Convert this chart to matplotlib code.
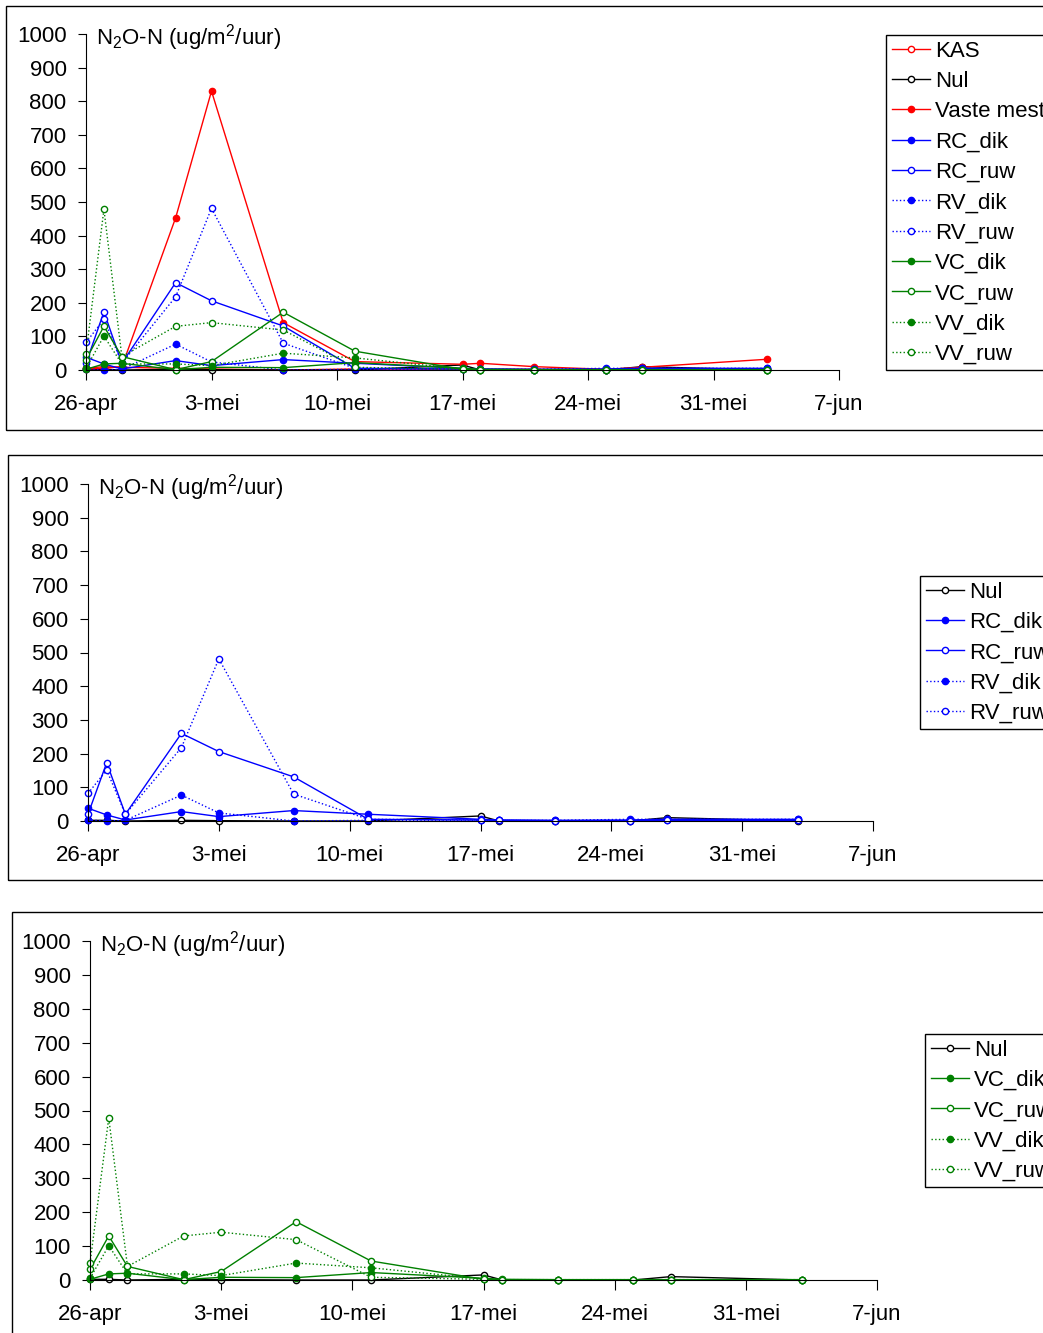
import pandas as pd
import matplotlib
matplotlib.use('Agg')
import matplotlib.pyplot as plt
from matplotlib.patches import Rectangle

plt.rcParams['font.family'] = ['Liberation Sans', 'DejaVu Sans']
plt.rcParams['mathtext.fontset'] = 'custom'
plt.rcParams['mathtext.rm'] = 'Liberation Sans'
plt.rcParams['mathtext.it'] = 'Liberation Sans:italic'

# meetdata N2O-N (ug/m2/uur)
dates = pd.to_datetime(['2006-04-26', '2006-04-27', '2006-04-28', '2006-05-01', '2006-05-03',
                        '2006-05-07', '2006-05-11', '2006-05-17', '2006-05-18', '2006-05-21',
                        '2006-05-25', '2006-05-27', '2006-06-03'])
kas = [5, 10, 8, 5, 3, 0, 3, 2, 2, 2, 1, 2, 2]
nul = [2, 2, 0, 2, 1, 0, 0, 15, 0, 0, 0, 10, 0]
vaste_mest = [3, 5, 10, 453, 830, 141, 25, 17, 20, 10, 2, 8, 32]
rc_dik = [38, 18, 3, 28, 13, 31, 20, 5, 3, 2, 3, 5, 5]
rc_ruw = [20, 173, 20, 260, 206, 131, 5, 3, 2, 1, 1, 2, 2]
rv_dik = [3, 0, 2, 77, 24, 0, 2, 2, 2, 2, 5, 5, 5]
rv_ruw = [82, 151, 20, 218, 481, 80, 5, 3, 2, 1, 1, 2, 2]
vc_dik = [2, 18, 20, 1, 8, 7, 22, 5, 2, 1, 1, 1, 1]
vc_ruw = [31, 130, 40, 1, 25, 172, 56, 2, 1, 1, 1, 1, 1]
vv_dik = [5, 101, 18, 18, 13, 50, 36, 3, 1, 0, 1, 1, 1]
vv_ruw = [49, 478, 40, 130, 141, 119, 8, 2, 1, 1, 1, 1, 1]

tick_dates = pd.to_datetime(['2006-04-26', '2006-05-03', '2006-05-10', '2006-05-17',
                             '2006-05-24', '2006-05-31', '2006-06-07'])
tick_labels = ['26-apr', '3-mei', '10-mei', '17-mei', '24-mei', '31-mei', '7-jun']

# naam: (waarden, kleur, lijnstijl, gevuld)
reeksen = {
    'KAS': (kas, '#FF0000', '-', False),
    'Nul': (nul, 'black', '-', False),
    'Vaste mest': (vaste_mest, '#FF0000', '-', True),
    'RC_dik': (rc_dik, '#0000FF', '-', True),
    'RC_ruw': (rc_ruw, '#0000FF', '-', False),
    'RV_dik': (rv_dik, '#0000FF', ':', True),
    'RV_ruw': (rv_ruw, '#0000FF', ':', False),
    'VC_dik': (vc_dik, '#008000', '-', True),
    'VC_ruw': (vc_ruw, '#008000', '-', False),
    'VV_dik': (vv_dik, '#008000', ':', True),
    'VV_ruw': (vv_ruw, '#008000', ':', False),
}

W, H = 1043, 1333
fig = plt.figure(figsize=(W / 100, H / 100), dpi=100)

# px-posities van de panelen: (links, rechts, boven, onder), kader, legenda
panelen = [
    ((86, 839, 34, 370), (6, 6, 430), (886, 35), list(reeksen.keys())),
    ((88, 873, 484, 821), (8, 455, 880), (920, 576), ['Nul', 'RC_dik', 'RC_ruw', 'RV_dik', 'RV_ruw']),
    ((90, 877, 941, 1280), (12, 912, 1345), (925, 1034), ['Nul', 'VC_dik', 'VC_ruw', 'VV_dik', 'VV_ruw']),
]

for (l, r, t, b), (kx, ky0, ky1), (lx, ly), namen in panelen:
    # kader rond de grafiek
    fig.patches.append(Rectangle((kx / W, 1 - ky1 / H), (W + 20 - kx) / W, (ky1 - ky0) / H,
                                 transform=fig.transFigure, fill=False, edgecolor='black',
                                 linewidth=1, zorder=0))
    ax = fig.add_axes([l / W, 1 - b / H, (r - l) / W, (b - t) / H])
    ax.patch.set_alpha(0)
    for naam in namen:
        vals, kleur, stijl, gevuld = reeksen[naam]
        ax.plot(dates, vals, color=kleur, linestyle=stijl, linewidth=1, marker='o',
                markersize=4.5, markeredgewidth=1, markeredgecolor=kleur,
                markerfacecolor=kleur if gevuld else 'white', label=naam, clip_on=False)
    ax.set_ylim(0, 1000)
    ax.set_yticks(range(0, 1001, 100))
    ax.set_xlim(tick_dates[0], tick_dates[-1])
    ax.set_xticks(tick_dates)
    ax.set_xticklabels(tick_labels)
    ax.spines['top'].set_visible(False)
    ax.spines['right'].set_visible(False)
    ax.tick_params(axis='y', direction='out', length=6, pad=8, labelsize=16)
    ax.tick_params(axis='x', direction='out', length=7, pad=10, labelsize=16)
    ax.text(0.013, 0.99, 'N$_{2}$O-N (ug/m$^{2}$/uur)', transform=ax.transAxes,
            fontsize=16, va='center', ha='left')
    leg = ax.legend(loc='upper left', bbox_to_anchor=(lx / W, 1 - ly / H),
                    bbox_transform=fig.transFigure, borderaxespad=0, fontsize=16,
                    frameon=True, fancybox=False, edgecolor='black', framealpha=1,
                    handlelength=1.75, handletextpad=0.2, labelspacing=0.42, borderpad=0.25)
    leg.get_frame().set_linewidth(1)

fig.savefig('out.png', dpi=100)
